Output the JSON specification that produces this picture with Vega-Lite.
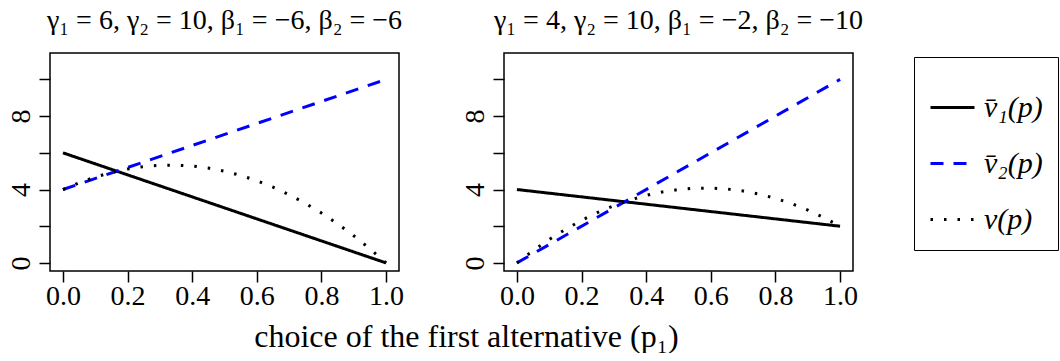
{
  "$schema": "https://vega.github.io/schema/vega-lite/v6.json",
  "background": "white",
  "padding": {"left": 6, "top": 6, "right": 0, "bottom": 0},
  "config": {
    "font": "Liberation Serif, DejaVu Serif, serif",
    "view": {"stroke": "black", "strokeWidth": 1.5},
    "axis": {
      "domain": false, "grid": false, "tickColor": "black", "tickWidth": 1.5, "tickSize": 11,
      "labelFont": "Liberation Serif, DejaVu Serif, serif", "labelFontSize": 28, "labelColor": "black", "title": null
    },
    "title": {"font": "Liberation Serif, DejaVu Serif, serif", "fontSize": 28, "fontWeight": "normal", "color": "black"}
  },
  "datasets": {
    "left": [
      {"p": 0, "value": 6, "series": "v̄₁(p)"},
      {"p": 1, "value": 0, "series": "v̄₁(p)"},
      {"p": 0, "value": 4, "series": "v̄₂(p)"},
      {"p": 1, "value": 10, "series": "v̄₂(p)"},
      {"p": 0, "value": 4, "series": "v(p)"},
      {"p": 0.05, "value": 4.37, "series": "v(p)"},
      {"p": 0.1, "value": 4.68, "series": "v(p)"},
      {"p": 0.15, "value": 4.93, "series": "v(p)"},
      {"p": 0.2, "value": 5.12, "series": "v(p)"},
      {"p": 0.25, "value": 5.25, "series": "v(p)"},
      {"p": 0.3, "value": 5.32, "series": "v(p)"},
      {"p": 0.35, "value": 5.33, "series": "v(p)"},
      {"p": 0.4, "value": 5.28, "series": "v(p)"},
      {"p": 0.45, "value": 5.17, "series": "v(p)"},
      {"p": 0.5, "value": 5.0, "series": "v(p)"},
      {"p": 0.55, "value": 4.77, "series": "v(p)"},
      {"p": 0.6, "value": 4.48, "series": "v(p)"},
      {"p": 0.65, "value": 4.13, "series": "v(p)"},
      {"p": 0.7, "value": 3.72, "series": "v(p)"},
      {"p": 0.75, "value": 3.25, "series": "v(p)"},
      {"p": 0.8, "value": 2.72, "series": "v(p)"},
      {"p": 0.85, "value": 2.13, "series": "v(p)"},
      {"p": 0.9, "value": 1.48, "series": "v(p)"},
      {"p": 0.95, "value": 0.77, "series": "v(p)"},
      {"p": 1, "value": 0, "series": "v(p)"}
    ],
    "right": [
      {"p": 0, "value": 4, "series": "v̄₁(p)"},
      {"p": 1, "value": 2, "series": "v̄₁(p)"},
      {"p": 0, "value": 0, "series": "v̄₂(p)"},
      {"p": 1, "value": 10, "series": "v̄₂(p)"},
      {"p": 0, "value": 0, "series": "v(p)"},
      {"p": 0.05, "value": 0.67, "series": "v(p)"},
      {"p": 0.1, "value": 1.28, "series": "v(p)"},
      {"p": 0.15, "value": 1.83, "series": "v(p)"},
      {"p": 0.2, "value": 2.32, "series": "v(p)"},
      {"p": 0.25, "value": 2.75, "series": "v(p)"},
      {"p": 0.3, "value": 3.12, "series": "v(p)"},
      {"p": 0.35, "value": 3.43, "series": "v(p)"},
      {"p": 0.4, "value": 3.68, "series": "v(p)"},
      {"p": 0.45, "value": 3.87, "series": "v(p)"},
      {"p": 0.5, "value": 4.0, "series": "v(p)"},
      {"p": 0.55, "value": 4.07, "series": "v(p)"},
      {"p": 0.6, "value": 4.08, "series": "v(p)"},
      {"p": 0.65, "value": 4.03, "series": "v(p)"},
      {"p": 0.7, "value": 3.92, "series": "v(p)"},
      {"p": 0.75, "value": 3.75, "series": "v(p)"},
      {"p": 0.8, "value": 3.52, "series": "v(p)"},
      {"p": 0.85, "value": 3.23, "series": "v(p)"},
      {"p": 0.9, "value": 2.88, "series": "v(p)"},
      {"p": 0.95, "value": 2.47, "series": "v(p)"},
      {"p": 1, "value": 2, "series": "v(p)"}
    ]
  },
  "title": {
    "text": "choice of the first alternative (p₁)",
    "orient": "bottom", "anchor": "middle", "dx": -66, "offset": 11, "fontSize": 32
  },
  "bounds": "flush",
  "spacing": 105,
  "hconcat": [
    {
      "width": 349, "height": 218,
      "title": {"text": "γ₁ = 6, γ₂ = 10, β₁ = −6, β₂ = −6", "offset": 18},
      "data": {"name": "left"},
      "mark": {"type": "line", "strokeWidth": 3, "strokeCap": "butt"},
      "encoding": {
        "x": {"field": "p", "type": "quantitative",
          "scale": {"domain": [-0.04, 1.04], "nice": false, "zero": false},
          "axis": {"values": [0, 0.2, 0.4, 0.6, 0.8, 1], "format": ".1f", "labelPadding": 0}},
        "y": {"field": "value", "type": "quantitative",
          "scale": {"domain": [-0.44, 11.44], "nice": false, "zero": false},
          "axis": {"values": [0, 2, 4, 6, 8, 10], "labelExpr": "datum.value == 0 || datum.value == 4 || datum.value == 8 ? datum.label : ''", "labelAngle": -90, "labelPadding": 4}},
        "color": {"field": "series", "type": "nominal",
          "scale": {"domain": ["v̄₁(p)", "v̄₂(p)", "v(p)"], "range": ["black", "#0000ff", "black"]},
          "legend": {
            "orient": "none", "legendX": 864, "legendY": 4, "symbolType": "stroke", "symbolSize": 1936,
            "symbolStrokeWidth": 3, "labelFontSize": 30, "labelFontStyle": "italic", "labelFont": "Liberation Serif, DejaVu Serif, serif",
            "labelColor": "black", "labelOffset": 8, "rowPadding": 17, "padding": 15,
            "strokeColor": "black", "title": " ", "titleFontSize": 12, "titlePadding": 0
          }},
        "strokeDash": {"field": "series", "type": "nominal",
          "scale": {"domain": ["v̄₁(p)", "v̄₂(p)", "v(p)"], "range": [[1, 0], [13, 10], [2.5, 11]]}}
      }
    },
    {
      "width": 349, "height": 218,
      "title": {"text": "γ₁ = 4, γ₂ = 10, β₁ = −2, β₂ = −10", "offset": 18},
      "data": {"name": "right"},
      "mark": {"type": "line", "strokeWidth": 3, "strokeCap": "butt"},
      "encoding": {
        "x": {"field": "p", "type": "quantitative",
          "scale": {"domain": [-0.04, 1.04], "nice": false, "zero": false},
          "axis": {"values": [0, 0.2, 0.4, 0.6, 0.8, 1], "format": ".1f", "labelPadding": 0}},
        "y": {"field": "value", "type": "quantitative",
          "scale": {"domain": [-0.44, 11.44], "nice": false, "zero": false},
          "axis": {"values": [0, 2, 4, 6, 8, 10], "labelExpr": "datum.value == 0 || datum.value == 4 || datum.value == 8 ? datum.label : ''", "labelAngle": -90, "labelPadding": 4}},
        "color": {"field": "series", "type": "nominal",
          "scale": {"domain": ["v̄₁(p)", "v̄₂(p)", "v(p)"], "range": ["black", "#0000ff", "black"]}},
        "strokeDash": {"field": "series", "type": "nominal",
          "scale": {"domain": ["v̄₁(p)", "v̄₂(p)", "v(p)"], "range": [[1, 0], [13, 10], [2.5, 11]]}}
      }
    }
  ]
}
